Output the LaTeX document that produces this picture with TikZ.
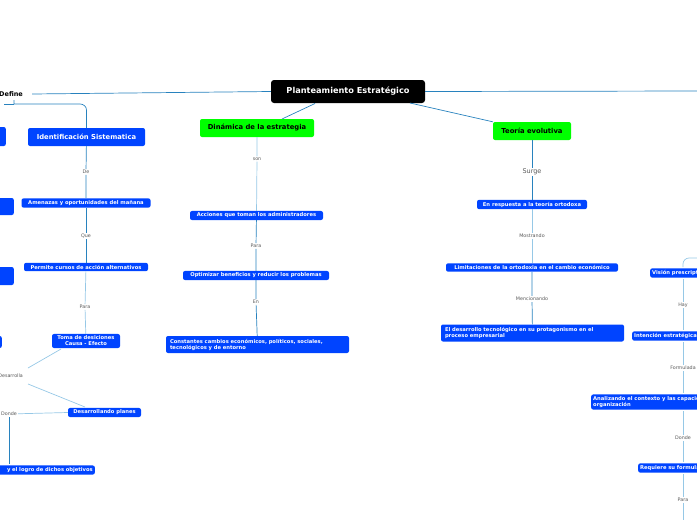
\documentclass[tikz,border=0pt]{standalone}
\usepackage{fontspec}
\setmainfont{DejaVu Sans}
\begin{document}
\begin{tikzpicture}[x=1pt,y=-1pt,
  bx/.style={fill={rgb,255:red,0;green,68;blue,255}, rounded corners=2pt, text=white, font=\fontsize{5.2}{6}\selectfont\bfseries, inner sep=2pt},
  gbx/.style={fill={rgb,255:red,0;green,255;blue,0}, rounded corners=2pt, text=black, font=\fontsize{6.8}{8}\selectfont\bfseries, minimum height=18pt, inner xsep=6pt},
  lbl/.style={text={rgb,255:red,90;green,90;blue,90}, font=\fontsize{4.8}{6}\selectfont, inner sep=1pt, fill=white},
  ln/.style={draw={rgb,255:red,40;green,130;blue,190}, line width=0.7pt},
  lnl/.style={draw={rgb,255:red,150;green,200;blue,230}, line width=0.7pt}]
\useasboundingbox (0,0) rectangle (697,520);
\clip (0,0) rectangle (697,520);
% title
\node[fill=black, rounded corners=3pt, text=white, font=\fontsize{8.2}{10}\selectfont\bfseries, minimum width=154pt, minimum height=23pt] (t) at (348,91.5) {Planteamiento Estratégico};
\node[font=\fontsize{6.5}{8}\selectfont\bfseries, anchor=west, inner sep=1pt] (def) at (-2,94) {Define};
\draw[ln] (def.east)++(8,0) coordinate (d1) -- (t.west);
\draw[ln] (t.east) -- (697,91) coordinate (r1);
% left column
\node[bx, font=\fontsize{6.8}{8}\selectfont\bfseries, minimum height=18pt, minimum width=117pt] (is) at (86.5,137) {Identificación Sistematica};
\draw[ln] (14,100) -- (14,104) -- (80,104) to[out=0,in=90] (86.5,110) -- (is.north);
\draw[ln] (4,104) -- (14,104);
\node[bx, minimum width=8pt, minimum height=19pt, anchor=east] (c1) at (6,136.5) {};
\node[bx, minimum width=16pt, minimum height=17pt, anchor=east] (c2) at (14,206.5) {};
\node[bx, minimum width=16pt, minimum height=18pt, anchor=east] (c3) at (14,276) {};
\node[bx, minimum width=6pt, minimum height=12pt, anchor=east] (c4) at (2,342) {};
\node[lbl] (de) at (86,172) {De};
\node[bx, minimum width=129pt] (am) at (86,203) {Amenazas y oportunidades del mañana};
\node[lbl] (que) at (86,236) {Que};
\node[bx, minimum width=124pt] (pe) at (86,267) {Permite cursos de acción alternativos};
\node[lbl] (pa1) at (85,307) {Para};
\node[bx, align=center, minimum width=68pt] (to) at (86,341) {Toma de desiciones\\Causa - Efecto};
\node[lbl, anchor=east] (des) at (24,376) {Desarrolla};
\node[bx, minimum width=73pt] (dp) at (104.5,412.5) {Desarrollando planes};
\node[lbl] (don) at (9,414) {Donde};
\node[bx, anchor=east, text width=100pt, align=right] (lo) at (95,470) {y el logro de dichos objetivos};
\draw[ln] (is) -- (de) -- (am);
\draw[ln] (am) -- (que) -- (pe);
\draw[lnl] (pe) -- (pa1) -- (to);
\draw[lnl] (61,349) -- (28,368);
\draw[lnl] (28,384) -- (85,407);
\draw[lnl] (don) -- (dp.west);
\draw[ln] (don) -- (9,464);
% middle column
\node[gbx, minimum width=114pt] (di) at (257,128) {Dinámica de la estrategia};
\draw[ln] (315,103.5) -- (282,119);
\node[lbl] (son) at (257,159) {son};
\node[bx, minimum width=133pt] (ac) at (256.5,215.5) {Acciones que toman los administradores};
\node[lbl] (pa2) at (256,246) {Para};
\node[bx, minimum width=146pt] (op) at (256,275.5) {Optimizar beneficios y reducir los problemas};
\node[lbl] (en) at (256,302) {En};
\node[bx, align=left, text width=175pt, minimum height=17pt, inner xsep=4pt] (co) at (257.5,344.5) {Constantes cambios económicos, políticos, sociales,\\tecnológicos y de entorno};
\draw[lnl] (di) -- (son) -- (ac);
\draw[ln] (ac) -- (pa2) -- (op);
\draw[ln] (op) -- (en) -- (co);
% right column
\node[gbx, minimum width=78pt] (te) at (532,131) {Teoría evolutiva};
\draw[ln] (410,103) -- (te.north west);
\node[lbl, font=\fontsize{6.5}{8}\selectfont] (su) at (532,172) {Surge};
\node[bx, minimum width=110pt] (er) at (532,204.5) {En respuesta a la teoría ortodoxa};
\node[lbl] (mo) at (532,236) {Mostrando};
\node[bx, minimum width=172pt] (li) at (532,267.5) {Limitaciones de la ortodoxia en el cambio económico};
\node[lbl] (me) at (532,299) {Mencionando};
\node[bx, align=left, text width=175pt, minimum height=17pt, inner xsep=4pt] (el) at (532.5,333) {El desarrollo tecnológico en su protagonismo en el\\proceso empresarial};
\draw[ln] (te) -- (su) -- (er);
\draw[lnl] (er) -- (mo) -- (li);
\draw[ln] (li) -- (me) -- (el);
% far right
\draw[lnl] (683,267) -- (683,264) to[out=90,in=180] (689,258) -- (697,258);
\node[bx, anchor=west] (vi) at (650,273) {Visión prescriptiva};
\node[lbl] (hay) at (683,305) {Hay};
\node[bx, anchor=west] (in) at (632,336) {Intención estratégica};
\node[lbl] (fo) at (683,368) {Formulada};
\node[bx, anchor=west, align=left] (an) at (591,402) {Analizando el contexto y las capacidades de la\\organización};
\node[lbl] (do2) at (683,438) {Donde};
\node[bx, anchor=west] (re) at (638,468) {Requiere su formulación};
\node[lbl] (pa3) at (683,500) {Para};
\draw[lnl] (683,279) -- (hay) -- (683,330);
\draw[lnl] (683,342) -- (fo) -- (683,393);
\draw[lnl] (683,411) -- (do2) -- (683,462);
\draw[lnl] (683,474) -- (pa3) -- (683,520);
\end{tikzpicture}
\end{document}
